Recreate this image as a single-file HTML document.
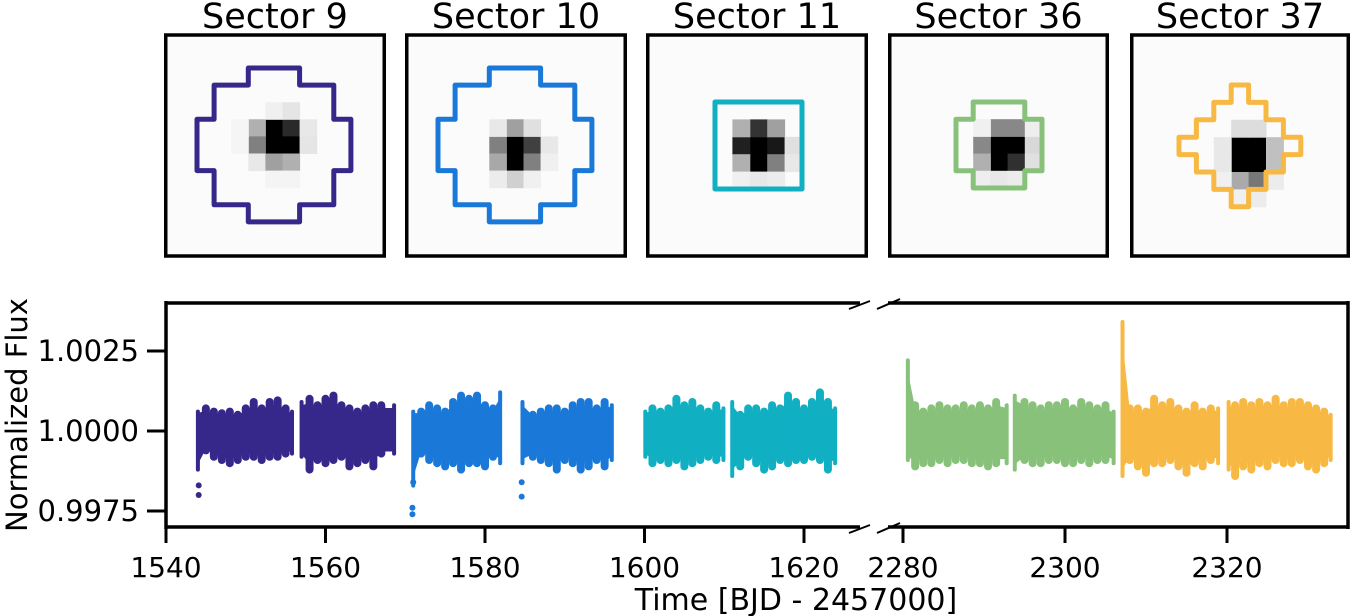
<!DOCTYPE html>
<html><head><meta charset="utf-8"><style>
html,body{margin:0;padding:0;background:#fff;}
svg{display:block;font-family:"DejaVu Sans","Liberation Sans",sans-serif;}
</style></head><body>
<svg id="fig" width="1352" height="616" viewBox="0 0 1352 616" xmlns="http://www.w3.org/2000/svg">
<g id="cutouts"></g>
<g id="lc"></g>
</svg>
<script>
// ---- Light curve data (ppm offsets from 1.0): per-day envelope hi/lo ----
const s9aTime=[1544,1545,1546,1547,1548,1549,1550,1551,1552,1553,1554,1555,1555.8];
const s9aHi=[700,800,700,650,700,600,800,1000,800,1000,1050,800,700];
const s9aLo=[-1300,-700,-900,-1000,-1100,-1000,-900,-900,-1000,-900,-900,-800,-800];
const s9bTime=[1557,1558,1559,1560,1561,1562,1563,1564,1565,1566,1567,1568.6];
const s9bHi=[1000,1100,900,1100,1200,900,800,700,800,900,900,900];
const s9bLo=[-900,-1300,-1000,-1100,-1000,-900,-1200,-1100,-1000,-1200,-800,-800];
const s10aTime=[1571,1572,1573,1574,1575,1576,1577,1578,1579,1580,1581,1581.9];
const s10aHi=[700,700,900,800,700,1000,1200,1100,1200,900,800,1300];
const s10aLo=[-1800,-800,-1000,-1100,-1200,-1100,-1300,-1100,-1100,-1200,-900,-1100];
const s10bTime=[1584.7,1586,1587,1588,1589,1590,1591,1592,1593,1594,1595,1595.9];
const s10bHi=[1000,600,700,800,800,700,900,1000,1000,800,1000,900];
const s10bLo=[-1100,-900,-1000,-1100,-1300,-1000,-1100,-1300,-1200,-1000,-1200,-1000];
const s11aTime=[1600.1,1601,1602,1603,1604,1605,1606,1607,1608,1609,1609.9];
const s11aHi=[700,800,700,800,1100,900,1000,800,700,900,800];
const s11aLo=[-900,-1100,-1000,-1100,-1000,-1200,-1100,-1000,-900,-1000,-1000];
const s11bTime=[1611,1612,1613,1614,1615,1616,1617,1618,1619,1620,1621,1622,1623,1623.9];
const s11bHi=[1000,600,800,800,700,900,800,1200,1000,800,1000,1300,1000,800];
const s11bLo=[-1500,-1200,-900,-1100,-1300,-1200,-1000,-1100,-1000,-1000,-900,-1000,-1300,-1100];
const s36aTime=[2280.6,2281.5,2282.5,2283.5,2284.5,2285.5,2286.5,2287.5,2288.5,2289.5,2290.5,2291.5,2292.8];
const s36aHi=[2300,900,700,800,900,800,800,900,800,900,800,1000,900];
const s36aLo=[-1000,-1200,-1100,-1100,-1000,-1100,-1000,-1000,-1100,-1100,-1200,-1100,-1100];
const s36bTime=[2293.8,2295,2296,2297,2298,2299,2300,2301,2302,2303,2304,2305,2306];
const s36bHi=[1200,1000,900,800,900,900,1000,800,1000,900,800,900,700];
const s36bLo=[-1300,-1000,-1100,-1100,-1000,-1000,-1100,-1100,-1000,-1100,-1000,-1000,-1100];
const s37aTime=[2307.1,2308,2309,2310,2311,2312,2313,2314,2315,2316,2317,2318,2318.9];
const s37aHi=[3500,800,800,700,1100,900,1000,800,700,900,700,800,800];
const s37aLo=[-1500,-1000,-1200,-1400,-1100,-1100,-1000,-1200,-1400,-1100,-1200,-1000,-1100];
const s37bTime=[2320.2,2321,2322,2323,2324,2325,2326,2327,2328,2329,2330,2331,2332,2332.8];
const s37bHi=[1000,900,1000,900,1000,900,1100,900,1000,1000,900,800,700,600];
const s37bLo=[-1300,-1500,-1200,-1300,-1100,-1200,-1000,-1100,-1100,-1000,-1200,-1300,-1100,-1000];
const outTime=[1544.1,1544.1,1570.9,1570.9,1571.0,1584.6,1584.6];
const outVal=[-2000,-1700,-2400,-2600,-1600,-1600,-2050];
const outSector=["s9","s9","s10","s10","s10","s10","s10"];
const xTicksLeft=[1540,1560,1580,1600,1620];
const xTicksRight=[2280,2300,2320];
const yTicks=[1.0025,1.0000,0.9975];
const yTickLabels=["1.0025","1.0000","0.9975"];

const NS="http://www.w3.org/2000/svg";
function el(tag,attrs,parent,txt){const e=document.createElementNS(NS,tag);for(const k in attrs)e.setAttribute(k,attrs[k]);if(txt!==undefined)e.textContent=txt;parent.appendChild(e);return e;}
const colors={s9:"#36288a",s10:"#1a78d8",s11:"#10afc2",s36:"#88c17a",s37:"#f7b944"};

function xL(t){return 166+(t-1540)*7.975;}
function xR(t){return 903+(t-2280)*8.1;}
function y(f){return 431-(f-1)*32000;}
function yp(ppm){return y(1+ppm*1e-6);}

const lc=document.getElementById('lc');
const sp={stroke:"#000","stroke-width":3.5,fill:"none"};
const s1=el('path',Object.assign({d:"M166,303 H860 M166,527 H860 M166,301 V529"},sp),lc);


const s2=el('path',Object.assign({d:"M888,303 H1348 M888,527 H1348 M1348,301 V529"},sp),lc);


[303,527].forEach(yy=>{
  const b=el('path',{d:`M849,${yy+6} L870,${yy-2} M877,${yy+6} L900,${yy-4}`,stroke:"#000","stroke-width":2,fill:"none"},lc);
  
  
});
const series=[
 ["s9",s9aTime,s9aHi,s9aLo,xL],["s9",s9bTime,s9bHi,s9bLo,xL],
 ["s10",s10aTime,s10aHi,s10aLo,xL],["s10",s10bTime,s10bHi,s10bLo,xL],
 ["s11",s11aTime,s11aHi,s11aLo,xL],["s11",s11bTime,s11bHi,s11bLo,xL],
 ["s36",s36aTime,s36aHi,s36aLo,xR],["s36",s36bTime,s36bHi,s36bLo,xR],
 ["s37",s37aTime,s37aHi,s37aLo,xR],["s37",s37bTime,s37bHi,s37bLo,xR]];
series.forEach(s=>{
  const [sec,T,H,L,fx]=s;
  const g=el('g',{},lc);
  
  
  for(let i=0;i<T.length;i++){
    const x=fx(T[i]);
    const w=(i===0||i===T.length-1)?4:8;
    const ln=el('line',{x1:x,x2:x,y1:yp(H[i])+3,y2:yp(L[i])-3,stroke:colors[sec],"stroke-width":w,"stroke-linecap":"round"},g);
    
    
    if(i<T.length-1){
      const x2=fx(T[i+1]);
      const p=el('polygon',{points:`${x},${yp(H[i]*0.8)} ${x2},${yp(H[i+1]*0.8)} ${x2},${yp(L[i+1]*0.8)} ${x},${yp(L[i]*0.8)}`,fill:colors[sec]},g);
      
      
    }
  }
});
for(let i=0;i<outTime.length;i++){
  const c=el('circle',{cx:xL(outTime[i]),cy:yp(outVal[i]),r:3,fill:colors[outSector[i]]},lc);
  
  
}
const tk={stroke:"#000","stroke-width":3};
xTicksLeft.forEach(t=>{
  const x=xL(t);
  const l=el('line',Object.assign({x1:x,x2:x,y1:527,y2:543},tk),lc);
  
  
  const tx=el('text',{x:x,y:577,"font-size":28,"text-anchor":"middle"},lc,String(t));
  
  
});
xTicksRight.forEach(t=>{
  const x=xR(t);
  const l=el('line',Object.assign({x1:x,x2:x,y1:527,y2:543},tk),lc);
  
  
  const tx=el('text',{x:x,y:577,"font-size":28,"text-anchor":"middle"},lc,String(t));
  
  
});
yTicks.forEach((f,i)=>{
  const yy=y(f);
  const l=el('line',Object.assign({x1:147,x2:166,y1:yy,y2:yy},tk),lc);
  
  
  const tx=el('text',{x:139,y:yy+10,"font-size":29,"text-anchor":"end"},lc,yTickLabels[i]);
  
  
});
const xt=el('text',{x:796,y:610,"font-size":30,"text-anchor":"middle"},lc,"Time [BJD - 2457000]");


const yt=el('text',{x:0,y:0,"font-size":29,"text-anchor":"middle",transform:"translate(27,415) rotate(-90)"},lc,"Normalized Flux");



const cut=document.getElementById('cutouts');
const panels=[
 {name:"Sector 9",sec:"s9",x0:164,x1:386,ax:197,ay:68,c:17.1,
  ap:[[3,0],[6,0],[6,1],[8,1],[8,3],[9,3],[9,6],[8,6],[8,8],[6,8],[6,9],[3,9],[3,8],[1,8],[1,6],[0,6],[0,3],[1,3],[1,1],[3,1]],
  px:[[4,3,0],[5,3,42],[4,4,0],[5,4,0],[3,3,176],[3,4,128],[3,5,232],[4,5,160],[5,5,176],[4,2,240],[5,2,229],[6,3,232],[6,4,229],[2,3,245],[2,4,245],[4,6,244],[5,6,244]]},
 {name:"Sector 10",sec:"s10",x0:405,x1:627,ax:438,ay:68,c:17.1,
  ap:[[3,0],[6,0],[6,1],[8,1],[8,3],[9,3],[9,6],[8,6],[8,8],[6,8],[6,9],[3,9],[3,8],[1,8],[1,6],[0,6],[0,3],[1,3],[1,1],[3,1]],
  px:[[4,4,0],[4,5,0],[5,4,64],[3,4,128],[4,3,160],[3,5,168],[5,5,128],[4,6,208],[3,3,232],[5,3,224],[6,4,232],[3,6,236],[5,6,240],[6,5,240]]},
 {name:"Sector 11",sec:"s11",x0:646,x1:868,ax:715,ay:102,c:17.4,
  ap:[[0,0],[5,0],[5,5],[0,5]],
  px:[[2,2,0],[2,3,0],[1,2,32],[3,2,24],[2,1,51],[1,1,176],[3,1,160],[1,3,176],[3,3,128],[4,2,224],[4,3,232],[1,4,240],[2,4,232],[3,4,236]]},
 {name:"Sector 36",sec:"s36",x0:888,x1:1109,ax:956,ay:102,c:17.2,
  ap:[[1,0],[4,0],[4,1],[5,1],[5,4],[4,4],[4,5],[1,5],[1,4],[0,4],[0,1],[1,1]],
  px:[[2,2,0],[3,2,0],[2,3,0],[3,3,48],[2,1,136],[3,1,136],[1,2,136],[1,3,176],[4,2,216],[4,3,224],[1,1,240],[4,1,238],[1,4,238],[2,4,232],[3,4,236]]},
 {name:"Sector 37",sec:"s37",x0:1130,x1:1350,ax:1179,ay:85,c:17.4,
  ap:[[3,0],[4,0],[4,1],[5,1],[5,2],[6,2],[6,3],[7,3],[7,4],[6,4],[6,5],[5,5],[5,6],[4,6],[4,7],[3,7],[3,6],[2,6],[2,5],[1,5],[1,4],[0,4],[0,3],[1,3],[1,2],[2,2],[2,1],[3,1]],
  px:[[3,3,0],[4,3,0],[3,4,0],[4,4,0],[3,5,170],[4,5,119],[5,3,192],[5,4,192],[2,3,232],[2,4,232],[3,2,221],[4,2,221],[2,5,240],[5,5,236],[3,6,240],[4,6,236]]}
];
panels.forEach(p=>{
  const g=el('g',{},cut);
  
  
  const w=p.x1-p.x0;
  const bg=el('rect',{x:p.x0,y:35,width:w,height:222,fill:"#fbfbfb"},g);
  
  
  p.px.forEach(q=>{
    const r=el('rect',{x:p.ax+q[0]*p.c,y:p.ay+q[1]*p.c,width:p.c+0.5,height:p.c+0.5,fill:`rgb(${q[2]},${q[2]},${q[2]})`},g);
    
    
  });
  const pts=p.ap.map(a=>(p.ax+a[0]*p.c)+","+(p.ay+a[1]*p.c)).join(" ");
  const ap=el('polygon',{points:pts,fill:"none",stroke:colors[p.sec],"stroke-width":5,"stroke-linejoin":"round"},g);
  
  
  const fr=el('rect',{x:p.x0+1.75,y:35,width:w-3.5,height:221,fill:"none",stroke:"#000","stroke-width":3.5},g);
  
  
  const t=el('text',{x:(p.x0+p.x1)/2,y:28,"font-size":35,"text-anchor":"middle"},g,p.name);
  
  
});
</script>
</body></html>
